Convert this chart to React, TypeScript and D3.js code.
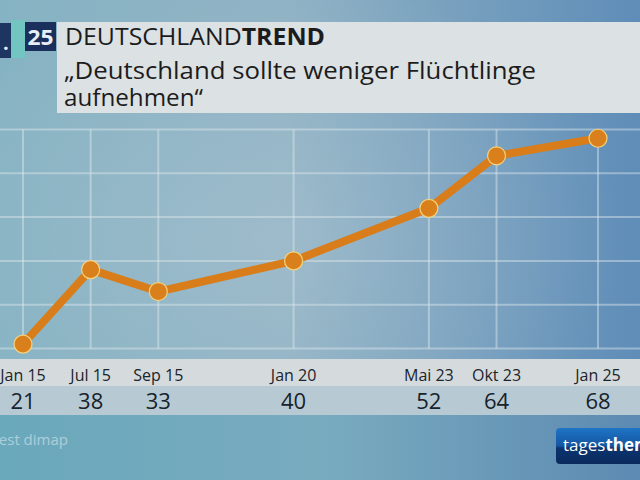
import React from "react";
import * as d3 from "d3";

const categories = ["Jan 15", "Jul 15", "Sep 15", "Jan 20", "Mai 23", "Okt 23", "Jan 25"];
const values = [21, 38, 33, 40, 52, 64, 68];
const slots = [0, 1, 2, 4, 6, 7, 8.5];
const gridValues = [20, 30, 40, 50, 60, 70];

const W = 640;
const H = 480;
const FONT = "'Open Sans', 'Noto Sans', sans-serif";

export default function App() {
  const x = d3.scaleLinear().domain([0, 8.5]).range([23, 598]);
  const y = d3.scaleLinear().domain([20, 70]).range([348.5, 129.5]);
  const line = d3
    .line<number>()
    .x((_, i) => x(slots[i]))
    .y((d) => y(d));

  return (
    <svg width={W} height={H} style={{ position: "absolute", left: 0, top: 0, display: "block" }}>
      <defs>
        <linearGradient id="bg" x1="0" y1="0" x2="1" y2="0">
          <stop offset="0" stopColor="#86b3c3" />
          <stop offset="0.45" stopColor="#8fb2c4" />
          <stop offset="1" stopColor="#5f8db8" />
        </linearGradient>
        <radialGradient id="glow" cx="0.42" cy="0.5" r="0.55">
          <stop offset="0" stopColor="#b9ccd6" stopOpacity="0.35" />
          <stop offset="1" stopColor="#b9ccd6" stopOpacity="0" />
        </radialGradient>
        <linearGradient id="bottom" x1="0" y1="0" x2="1" y2="0">
          <stop offset="0" stopColor="#6aa8bb" />
          <stop offset="0.5" stopColor="#79abbf" />
          <stop offset="1" stopColor="#5c8ab2" />
        </linearGradient>
        <linearGradient id="logo" x1="0" y1="0" x2="0" y2="1">
          <stop offset="0" stopColor="#1f74c6" />
          <stop offset="0.5" stopColor="#1456a0" />
          <stop offset="0.55" stopColor="#0c3470" />
          <stop offset="1" stopColor="#0a2a5c" />
        </linearGradient>
      </defs>

      <rect x={0} y={0} width={W} height={H} fill="url(#bg)" />
      <rect x={0} y={0} width={W} height={H} fill="url(#glow)" />
      <rect x={0} y={415} width={W} height={65} fill="url(#bottom)" />

      {/* header */}
      <rect x={0} y={23} width={11} height={35} fill="#1d3560" />
      <text x={3} y={50} fontFamily={FONT} fontSize={20} fontWeight={700} fill="#e8eef2">.</text>
      <rect x={11} y={20} width={14} height={38} fill="#72c5c0" />
      <rect x={25} y={22} width={31} height={29} fill="#1a2f5c" />
      <text x={40.5} y={45} textAnchor="middle" fontFamily={FONT} fontSize={21} fontWeight={700} fill="#e8eef4" textLength={26} lengthAdjust="spacingAndGlyphs">25</text>
      <rect x={57} y={22} width={W - 57} height={91} fill="#dce1e4" />
      <text x={65} y={45} fontFamily={FONT} fontSize={23} fill="#1c1c1c" textLength={260} lengthAdjust="spacingAndGlyphs">
        DEUTSCHLAND<tspan fontWeight={700}>TREND</tspan>
      </text>
      <text x={64} y={79} fontFamily={FONT} fontSize={24} fill="#1c1c1c" textLength={472} lengthAdjust="spacingAndGlyphs">„Deutschland sollte weniger Flüchtlinge</text>
      <text x={64} y={106} fontFamily={FONT} fontSize={24} fill="#1c1c1c" textLength={139} lengthAdjust="spacingAndGlyphs">aufnehmen“</text>

      {/* grid */}
      {gridValues.map((v) => (
        <line key={v} x1={0} x2={W} y1={y(v)} y2={y(v)} stroke="#dfe8ee" strokeOpacity={0.45} strokeWidth={2} />
      ))}
      {categories.map((c, i) => (
        <line key={c} x1={x(slots[i])} x2={x(slots[i])} y1={y(70)} y2={y(20)} stroke="#dfe8ee" strokeOpacity={0.45} strokeWidth={2} />
      ))}

      {/* line */}
      <path d={line(values) || ""} fill="none" stroke="#d87d1a" strokeWidth={8} strokeLinejoin="round" strokeLinecap="round" />
      {values.map((v, i) => (
        <circle key={i} cx={x(slots[i])} cy={y(v)} r={9} fill="#d9801c" stroke="#f3d27e" strokeWidth={1.2} />
      ))}

      {/* label band */}
      <rect x={0} y={359} width={W} height={27} fill="#d5dadd" />
      <rect x={0} y={386} width={W} height={29} fill="#b7cad3" />
      {categories.map((c, i) => (
        <text key={c} x={x(slots[i])} y={381} textAnchor="middle" fontFamily={FONT} fontSize={16} fill="#1a242c">{c}</text>
      ))}
      {values.map((v, i) => (
        <text key={i} x={x(slots[i])} y={409} textAnchor="middle" fontFamily={FONT} fontSize={22} fontWeight={500} fill="#18222b">{v}</text>
      ))}

      {/* source */}
      <text x={68} y={445} textAnchor="end" fontFamily={FONT} fontSize={15} fill="#e6f0f4" fillOpacity={0.55}>Infratest dimap</text>

      {/* logo */}
      <rect x={556} y={428} width={100} height={36} rx={4} fill="url(#logo)" />
      <text x={563} y={451} fontFamily={FONT} fontSize={17} fill="#ffffff">
        tages<tspan fontWeight={700}>themen</tspan>
      </text>
    </svg>
  );
}
